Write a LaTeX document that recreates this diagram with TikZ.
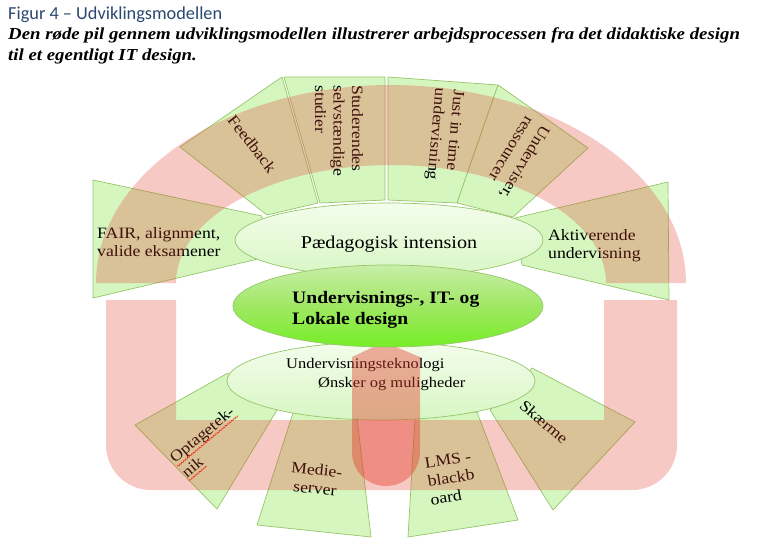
\documentclass[tikz,border=0pt]{standalone}
\usepackage{fontspec}
\setmainfont{Liberation Serif}[FakeStretch=1.12]
\newfontfamily\titlefont{Carlito}
\usetikzlibrary{shapes.geometric,decorations.pathmorphing}
\definecolor{trapfill}{RGB}{214,246,192}
\definecolor{trapline}{RGB}{150,198,105}
\definecolor{elltop}{RGB}{243,253,236}
\definecolor{ellbot}{RGB}{216,246,196}
\definecolor{ctop}{RGB}{200,238,168}
\definecolor{cmid}{RGB}{160,232,100}
\definecolor{cbot}{RGB}{118,238,38}
\definecolor{redpil}{RGB}{228,62,45}
\definecolor{titleblue}{RGB}{42,72,112}
\begin{document}
\begin{tikzpicture}[x=1pt,y=-1pt,
  trap/.style={draw=trapline,line width=0.7pt,fill=trapfill,line join=round},
  lab/.style={font=\fontsize{15.8}{18.5}\selectfont,inner sep=0pt,align=left},
  ellbox/.style={ellipse,draw=trapline,line width=0.7pt,top color=elltop,bottom color=ellbot,inner sep=0pt},
  band/.style={fill=redpil,fill opacity=0.28},
  core/.style={fill=redpil,fill opacity=0.42},
  squig/.style={draw=red,line width=0.5pt,decorate,decoration={snake,amplitude=0.7pt,segment length=2.6pt}}]
\useasboundingbox (0,0) rectangle (758,557);
\fill[white] (0,0) rectangle (758,557);
% title
\node[anchor=base west,inner sep=0pt,font=\titlefont\fontsize{18.3}{20}\selectfont,text=titleblue] (title) at (8,19) {Figur 4 – Udviklingsmodellen};
\node[anchor=base west,inner sep=0pt,align=left,font=\bfseries\itshape\fontsize{16.8}{21}\selectfont] (caption) at (8,60) {Den røde pil gennem udviklingsmodellen illustrerer arbejdsprocessen fra det didaktiske design\\til et egentligt IT design.};
% upper trapezoids
\path[trap] (93,180) -- (93,298) -- (262,258) -- (262,216) -- cycle;
\path[trap] (180,147) -- (282,77) -- (318,203) -- (267,215) -- cycle;
\path[trap] (284,77) -- (385,77) -- (385,200) -- (320,203) -- cycle;
\path[trap] (388,77) -- (498,85) -- (457,203) -- (388,200) -- cycle;
\path[trap] (498,85) -- (588,148) -- (513,217) -- (457,203) -- cycle;
\path[trap] (668,182) -- (669,300) -- (522,265) -- (515,218) -- cycle;
% lower trapezoids
\path[trap] (135,425) -- (217,509) -- (277,410) -- (228,373) -- cycle;
\path[trap] (293,413) -- (357,418) -- (371,537) -- (257,525) -- cycle;
\path[trap] (415,418) -- (477,412) -- (518,520) -- (408,537) -- cycle;
\path[trap] (532,368) -- (635,422) -- (553,510) -- (490,410) -- cycle;
% upper labels (anchor base = baseline of the last line)
\node[lab,anchor=base west] (fair) at (97,256.5) {FAIR, alignment,\\valide eksamener};
\node[lab,rotate=-52] (feed) at (252,144) {Feedback};
\node[lab,rotate=-90,anchor=base west] (stud) at (315,85) {Studerendes\\selvstændige\\studier};
\node[lab,rotate=-95,anchor=base west] (just) at (435.6,87.4) {Just in time\\undervisning};
\node[lab,rotate=-121,anchor=base west] (res) at (526,115) {Underviser,\\ressourcer};
\node[lab,anchor=base west] (akt) at (548,258.5) {Aktiverende\\undervisning};
% lower labels
\begin{scope}[shift={(175,464)},rotate=40,transform shape]
\node[lab,anchor=base west,text depth=3.2pt] (opt) at (0,0) {Optagetek-};
\node[lab,anchor=base west,text depth=3.2pt] (nik) at (0,18.5) {nik};
\end{scope}
\draw[squig] (opt.south west) -- (opt.south east);
\draw[squig] (nik.south west) -- (nik.south east);
\node[lab,align=center,rotate=-6] (medie) at (316,479) {Medie-\\server};
\node[lab,rotate=9] (lms) at (451,478) {LMS -\\blackb\\oard};
\node[lab,rotate=-41] (skaerm) at (544,422) {Skærme};
% ellipses
\node[ellbox,minimum width=308pt,minimum height=74pt] (pedell) at (389,240) {};
\node[inner sep=0pt,anchor=base,font=\fontsize{18}{20}\selectfont] (ped) at (389,248) {Pædagogisk intension};
\node[ellbox,minimum width=308pt,minimum height=78pt] (tekell) at (381,381) {};
\node[inner sep=0pt,anchor=base west,align=left,font=\fontsize{14.7}{19}\selectfont] (tek) at (286,387) {Undervisningsteknologi\\\hspace*{32pt}Ønsker og muligheder};
% red arrow
\path[band] (96,283) arc[start angle=180,end angle=360,x radius=295,y radius=198] -- (606,283) arc[start angle=0,end angle=-180,x radius=215,y radius=118] -- cycle;
\path[band] (106,300) -- (106,445) .. controls (106,470) and (126,490) .. (151,490) -- (632,490) .. controls (657,490) and (677,470) .. (677,445) -- (677,300) -- (604,300) -- (604,420) -- (176,420) -- (176,300) -- cycle;
\path[core] (352,357) -- (384,342) -- (420,357) -- (420,452) .. controls (420,471) and (405,486) .. (386,486) .. controls (367,486) and (352,471) .. (352,452) -- cycle;
% centre ellipse
\node[ellipse,draw=trapline,line width=0.7pt,top color=ctop,bottom color=cbot,middle color=cmid,inner sep=0pt,minimum width=310pt,minimum height=82pt] (design) at (388,306) {};
\node[inner sep=0pt,anchor=base west,align=left,font=\bfseries\fontsize{17.5}{21}\selectfont] (designtxt) at (292,324) {Undervisnings-, IT- og\\Lokale design};
\end{tikzpicture}
\end{document}
